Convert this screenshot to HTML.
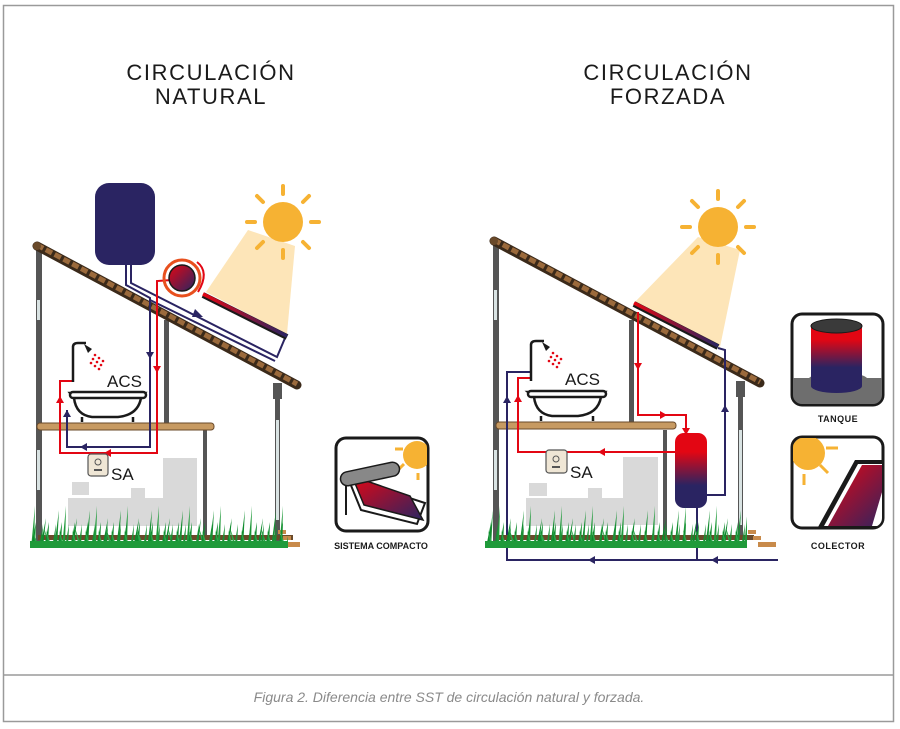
<!DOCTYPE html>
<html><head><meta charset="utf-8"><style>
body{margin:0;background:#fff;}
svg{display:block;font-family:"Liberation Sans",sans-serif;}
</style></head><body>
<svg width="900" height="729" viewBox="0 0 900 729" xmlns="http://www.w3.org/2000/svg">
<defs>
<linearGradient id="rb" x1="0" y1="0" x2="1" y2="1"><stop offset="0" stop-color="#e30613"/><stop offset="1" stop-color="#2a2462"/></linearGradient>
<linearGradient id="rbv" x1="0" y1="0" x2="0" y2="1"><stop offset="0.25" stop-color="#e30613"/><stop offset="0.7" stop-color="#2a2462"/></linearGradient>
<linearGradient id="rbh" x1="0" y1="0" x2="1" y2="0"><stop offset="0" stop-color="#e30613"/><stop offset="1" stop-color="#2a2462"/></linearGradient>
<pattern id="grass" width="31" height="46" patternUnits="userSpaceOnUse" y="502">
<polygon points="0,46 4,4 3,46" fill="#1f9a3a"/>
<polygon points="9,46 15,16 12,46" fill="#0c8a2c"/>
<polygon points="17,46 13,26 20,46" fill="#27a745"/>
<polygon points="23,46 28,8 26,46" fill="#168f33"/>
</pattern>
<pattern id="grass2" width="13" height="30" patternUnits="userSpaceOnUse" x="5" y="518">
<polygon points="0,30 5,4 4,30" fill="#0c8a2c"/>
<polygon points="5,30 2,12 8,30" fill="#2aa84a"/>
<polygon points="8,30 12,6 11,30" fill="#168f33"/>
</pattern>
<g id="sun">
<circle r="20" fill="#f6b233"/>
<g stroke="#f6b233" stroke-width="4" stroke-linecap="round">
<line x1="0" y1="-28" x2="0" y2="-36"/><line x1="0" y1="28" x2="0" y2="36"/>
<line x1="-28" y1="0" x2="-36" y2="0"/><line x1="28" y1="0" x2="36" y2="0"/>
<line x1="20" y1="-20" x2="26" y2="-26"/><line x1="-20" y1="-20" x2="-26" y2="-26"/>
<line x1="20" y1="20" x2="26" y2="26"/><line x1="-20" y1="20" x2="-26" y2="26"/>
</g></g>
</defs>

<rect x="3.5" y="5.5" width="890" height="716" fill="none" stroke="#9a9a9a" stroke-width="1.5"/>
<line x1="3" y1="675" x2="894" y2="675" stroke="#9a9a9a" stroke-width="1.5"/>
<text x="449" y="702" text-anchor="middle" font-size="14" font-style="italic" fill="#8a8a8a">Figura 2. Diferencia entre SST de circulación natural y forzada.</text>

<g font-size="22" fill="#1a1a1a" text-anchor="middle" letter-spacing="1.6">
<text x="211" y="80">CIRCULACIÓN</text><text x="211" y="104">NATURAL</text>
<text x="668" y="80">CIRCULACIÓN</text><text x="668" y="104">FORZADA</text>
</g>

<!-- LEFT HOUSE -->
<polygon points="248,230 295,246 287,334 206,292" fill="#fde5b8"/>
<use href="#sun" x="283" y="222"/>
<g fill="#d9d9d9">
<rect x="163" y="458" width="34" height="68"/>
<rect x="68" y="498" width="97" height="28"/>
<rect x="72" y="482" width="17" height="13"/>
<rect x="131" y="488" width="14" height="10"/>
</g>
<rect x="36" y="250" width="6" height="298" fill="#555"/>
<rect x="37" y="300" width="3" height="20" fill="#d9e3e3"/>
<rect x="37" y="450" width="3" height="40" fill="#d9e3e3"/>
<rect x="164" y="320" width="5" height="105" fill="#555"/>
<rect x="273" y="383" width="9" height="16" fill="#555"/>
<rect x="275" y="399" width="5" height="146" fill="#555"/>
<rect x="276" y="420" width="3" height="100" fill="#d9e3e3"/>
<rect x="203" y="430" width="4" height="110" fill="#555"/>
<line x1="37" y1="246" x2="297" y2="385" stroke="#3b2a1a" stroke-width="9" stroke-linecap="round"/>
<line x1="37" y1="245" x2="297" y2="384" stroke="#9b6a3c" stroke-width="5" stroke-dasharray="7 3"/>
<circle cx="37" cy="246" r="4" fill="#6a4a2a"/>
<rect x="37" y="423" width="177" height="7" rx="3" fill="#c79a62" stroke="#6a4a2a" stroke-width="1"/>
<rect x="95" y="183" width="60" height="82" rx="14" fill="#2a2462"/>
<g fill="none" stroke="#2a2462" stroke-width="2">
<polyline points="126,265 126,285 150,298 150,447 67,447 67,410"/>
<polyline points="131,265 131,283 277,357 285,338"/>
<polyline points="150,300 275,361"/>
</g>
<polygon points="195,309 203,317 192,317" fill="#2a2462"/>
<polygon points="146,352 150,359 154,352" fill="#2a2462"/>
<polygon points="63,417 67,410 71,417" fill="#2a2462"/>
<polygon points="87,443 80,447 87,451" fill="#2a2462"/>
<polyline points="172,280 157,281 157,453 60,453 60,381 73,381" fill="none" stroke="#e30613" stroke-width="2"/>
<polygon points="153,366 157,373 161,366" fill="#e30613"/>
<polygon points="56,403 60,396 64,403" fill="#e30613"/>
<polygon points="111,449 104,453 111,457" fill="#e30613"/>
<line x1="203" y1="295" x2="287" y2="337" stroke="#1a1a1a" stroke-width="6"/>
<line x1="203" y1="294" x2="287" y2="336" stroke="url(#rbh)" stroke-width="3.5"/>
<circle cx="182" cy="278" r="18" fill="none" stroke="#e8501e" stroke-width="3"/>
<circle cx="182" cy="278" r="13" fill="url(#rb)" stroke="#1a1a1a" stroke-width="1.5"/>
<path d="M197,262 Q210,272 198,292" fill="none" stroke="#e30613" stroke-width="2"/>
<path d="M73,382 V347 Q73,343 78,343 H86" fill="none" stroke="#1a1a1a" stroke-width="2.5"/>
<path d="M84,344 L92,349 L88,353 Z" fill="#1a1a1a"/>
<g fill="#e30613"><circle cx="95" cy="355" r="1.3"/><circle cx="99" cy="358" r="1.3"/><circle cx="103" cy="361" r="1.3"/><circle cx="93" cy="359" r="1.3"/><circle cx="97" cy="362" r="1.3"/><circle cx="101" cy="365" r="1.3"/><circle cx="91" cy="363" r="1.3"/><circle cx="95" cy="366" r="1.3"/><circle cx="99" cy="369" r="1.3"/></g>
<path d="M70,393 H145 L141,398 Q138,415 118,417 H92 Q76,415 74,398 Z" fill="#fff" stroke="#1a1a1a" stroke-width="2.5"/>
<rect x="70" y="392" width="76" height="6" rx="3" fill="#fff" stroke="#1a1a1a" stroke-width="2.5"/>
<line x1="82" y1="417" x2="82" y2="422" stroke="#1a1a1a" stroke-width="2.5"/><line x1="133" y1="417" x2="133" y2="422" stroke="#1a1a1a" stroke-width="2.5"/>
<text x="107" y="387" font-size="17" fill="#1a1a1a">ACS</text>
<rect x="88" y="454" width="20" height="22" rx="3" fill="#efe6d5" stroke="#555" stroke-width="1.2"/>
<circle cx="98" cy="462" r="3" fill="none" stroke="#555"/><rect x="94" y="469" width="8" height="2" fill="#555"/>
<text x="111" y="480" font-size="17" fill="#1a1a1a">SA</text>
<rect x="38" y="535" width="255" height="5" fill="#6a4a2a"/>
<g fill="#c88a4a"><rect x="278" y="530" width="8" height="4"/><rect x="283" y="536" width="8" height="4"/><rect x="288" y="542" width="12" height="5"/></g>
<rect x="30" y="502" width="258" height="46" fill="url(#grass)"/>
<rect x="30" y="518" width="258" height="30" fill="url(#grass2)"/>
<rect x="30" y="541" width="258" height="7" fill="#1f9a3a"/>
<rect x="336" y="438" width="92" height="93" rx="10" fill="#fff" stroke="#1a1a1a" stroke-width="3"/>
<clipPath id="c1"><rect x="337" y="439" width="90" height="91" rx="9"/></clipPath>
<g clip-path="url(#c1)">
<circle cx="417" cy="455" r="14" fill="#f6b233"/>
<g stroke="#f6b233" stroke-width="3"><line x1="395" y1="449" x2="403" y2="449"/><line x1="398" y1="470" x2="404" y2="464"/><line x1="418" y1="473" x2="418" y2="480"/></g>
<polygon points="348,478 425,503 417,524 361,510" fill="none" stroke="#1a1a1a" stroke-width="2"/>
<polygon points="352,476 410,496 423,520 364,505" fill="url(#rb)" stroke="#1a1a1a" stroke-width="1.5"/>
<line x1="346" y1="480" x2="346" y2="515" stroke="#1a1a1a" stroke-width="2"/>
<rect x="340" y="467" width="60" height="14" rx="7" transform="rotate(-12 370 474)" fill="#888" stroke="#1a1a1a" stroke-width="1.5"/>
</g>
<text x="381" y="549" font-size="9" font-weight="bold" text-anchor="middle" fill="#1a1a1a">SISTEMA COMPACTO</text>

<!-- RIGHT HOUSE -->
<polygon points="698,237 740,250 720,347 635,302" fill="#fde5b8"/>
<use href="#sun" x="718" y="227"/>
<g fill="#d9d9d9">
<rect x="623" y="457" width="35" height="68"/>
<rect x="526" y="498" width="97" height="28"/>
<rect x="529" y="483" width="18" height="13"/>
<rect x="588" y="488" width="14" height="10"/>
</g>
<rect x="493" y="245" width="6" height="300" fill="#555"/>
<rect x="494" y="290" width="3" height="30" fill="#d9e3e3"/>
<rect x="494" y="450" width="3" height="40" fill="#d9e3e3"/>
<rect x="629" y="320" width="5" height="103" fill="#555"/>
<rect x="736" y="381" width="9" height="16" fill="#555"/>
<rect x="738" y="397" width="5" height="140" fill="#555"/>
<rect x="739" y="430" width="3" height="95" fill="#d9e3e3"/>
<rect x="663" y="430" width="4" height="105" fill="#555"/>
<line x1="494" y1="241" x2="760" y2="383" stroke="#3b2a1a" stroke-width="9" stroke-linecap="round"/>
<line x1="494" y1="240" x2="760" y2="382" stroke="#9b6a3c" stroke-width="5" stroke-dasharray="7 3"/>
<circle cx="494" cy="241" r="4" fill="#6a4a2a"/>
<rect x="496" y="422" width="180" height="7" rx="3" fill="#c79a62" stroke="#6a4a2a" stroke-width="1"/>
<g fill="none" stroke="#2a2462" stroke-width="2">
<polyline points="718,348 725,350 725,495 707,495"/>
<polyline points="697,505 697,560"/>
<polyline points="778,560 507,560 507,372 531,372"/>
</g>
<g fill="#2a2462"><polygon points="721,412 725,405 729,412"/><polygon points="503,403 507,396 511,403"/><polygon points="595,556 588,560 595,564"/><polygon points="718,556 711,560 718,564"/></g>
<polyline points="638,312 638,415 686,415 686,433" fill="none" stroke="#e30613" stroke-width="2"/>
<polyline points="675,452 518,452 518,378 531,378" fill="none" stroke="#e30613" stroke-width="2"/>
<g fill="#e30613"><polygon points="634,363 638,370 642,363"/><polygon points="660,411 667,415 660,419"/><polygon points="682,428 686,435 690,428"/><polygon points="605,448 598,452 605,456"/><polygon points="514,402 518,395 522,402"/></g>
<rect x="675" y="433" width="32" height="75" rx="9" fill="url(#rbv)"/>
<line x1="634" y1="304" x2="718" y2="347" stroke="#1a1a1a" stroke-width="6"/>
<line x1="634" y1="303" x2="718" y2="346" stroke="url(#rbh)" stroke-width="3.5"/>
<path d="M531,381 V345 Q531,341 536,341 H544" fill="none" stroke="#1a1a1a" stroke-width="2.5"/>
<path d="M542,342 L550,347 L546,351 Z" fill="#1a1a1a"/>
<g fill="#e30613"><circle cx="553" cy="353" r="1.3"/><circle cx="557" cy="356" r="1.3"/><circle cx="561" cy="359" r="1.3"/><circle cx="551" cy="357" r="1.3"/><circle cx="555" cy="360" r="1.3"/><circle cx="559" cy="363" r="1.3"/><circle cx="549" cy="361" r="1.3"/><circle cx="553" cy="364" r="1.3"/><circle cx="557" cy="367" r="1.3"/></g>
<path d="M528,392 H605 L601,397 Q598,414 578,416 H552 Q536,414 534,397 Z" fill="#fff" stroke="#1a1a1a" stroke-width="2.5"/>
<rect x="528" y="391" width="78" height="6" rx="3" fill="#fff" stroke="#1a1a1a" stroke-width="2.5"/>
<line x1="541" y1="416" x2="541" y2="421" stroke="#1a1a1a" stroke-width="2.5"/><line x1="593" y1="416" x2="593" y2="421" stroke="#1a1a1a" stroke-width="2.5"/>
<text x="565" y="385" font-size="17" fill="#1a1a1a">ACS</text>
<rect x="546" y="450" width="21" height="23" rx="3" fill="#efe6d5" stroke="#555" stroke-width="1.2"/>
<circle cx="556" cy="459" r="3" fill="none" stroke="#555"/><rect x="552" y="466" width="8" height="2" fill="#555"/>
<text x="570" y="478" font-size="17" fill="#1a1a1a">SA</text>
<rect x="496" y="535" width="258" height="5" fill="#6a4a2a"/>
<g fill="#c88a4a"><rect x="748" y="530" width="8" height="4"/><rect x="753" y="536" width="8" height="4"/><rect x="758" y="542" width="18" height="5"/></g>
<rect x="485" y="502" width="262" height="46" fill="url(#grass)"/>
<rect x="485" y="518" width="262" height="30" fill="url(#grass2)"/>
<rect x="485" y="541" width="262" height="7" fill="#1f9a3a"/>
<rect x="792" y="314" width="91" height="91" rx="10" fill="#fff" stroke="#1a1a1a" stroke-width="3"/>
<clipPath id="c2"><rect x="793" y="315" width="89" height="89" rx="9"/></clipPath>
<g clip-path="url(#c2)">
<rect x="793" y="378" width="90" height="27" fill="#6e6e6e"/>
<ellipse cx="838" cy="380" rx="30" ry="8" fill="#6e6e6e"/>
<rect x="811" y="324" width="51" height="62" fill="url(#rbv)"/>
<ellipse cx="836.5" cy="386" rx="25.5" ry="7" fill="#2a2462"/>
<ellipse cx="836.5" cy="326" rx="25.5" ry="7" fill="#3a3a3a" stroke="#1a1a1a"/>
</g>
<text x="838" y="422" font-size="9" font-weight="bold" text-anchor="middle" fill="#1a1a1a" letter-spacing="0.5">TANQUE</text>
<rect x="792" y="437" width="91" height="91" rx="10" fill="#fff" stroke="#1a1a1a" stroke-width="3"/>
<clipPath id="c3"><rect x="793" y="438" width="89" height="89" rx="9"/></clipPath>
<g clip-path="url(#c3)">
<circle cx="808" cy="453" r="17" fill="#f6b233"/>
<g stroke="#f6b233" stroke-width="3"><line x1="826" y1="448" x2="838" y2="448"/><line x1="820" y1="465" x2="828" y2="473"/><line x1="804" y1="474" x2="804" y2="485"/></g>
<polygon points="818,527 855,460 890,460 890,527" fill="#1a1a1a"/>
<polygon points="824,526 858,464 890,464 890,526" fill="#fff"/>
<polygon points="828,526 862,465 890,465 872,526" fill="url(#rb)"/>
</g>
<text x="838" y="549" font-size="9" font-weight="bold" text-anchor="middle" fill="#1a1a1a" letter-spacing="0.5">COLECTOR</text>
</svg>
</body></html>
